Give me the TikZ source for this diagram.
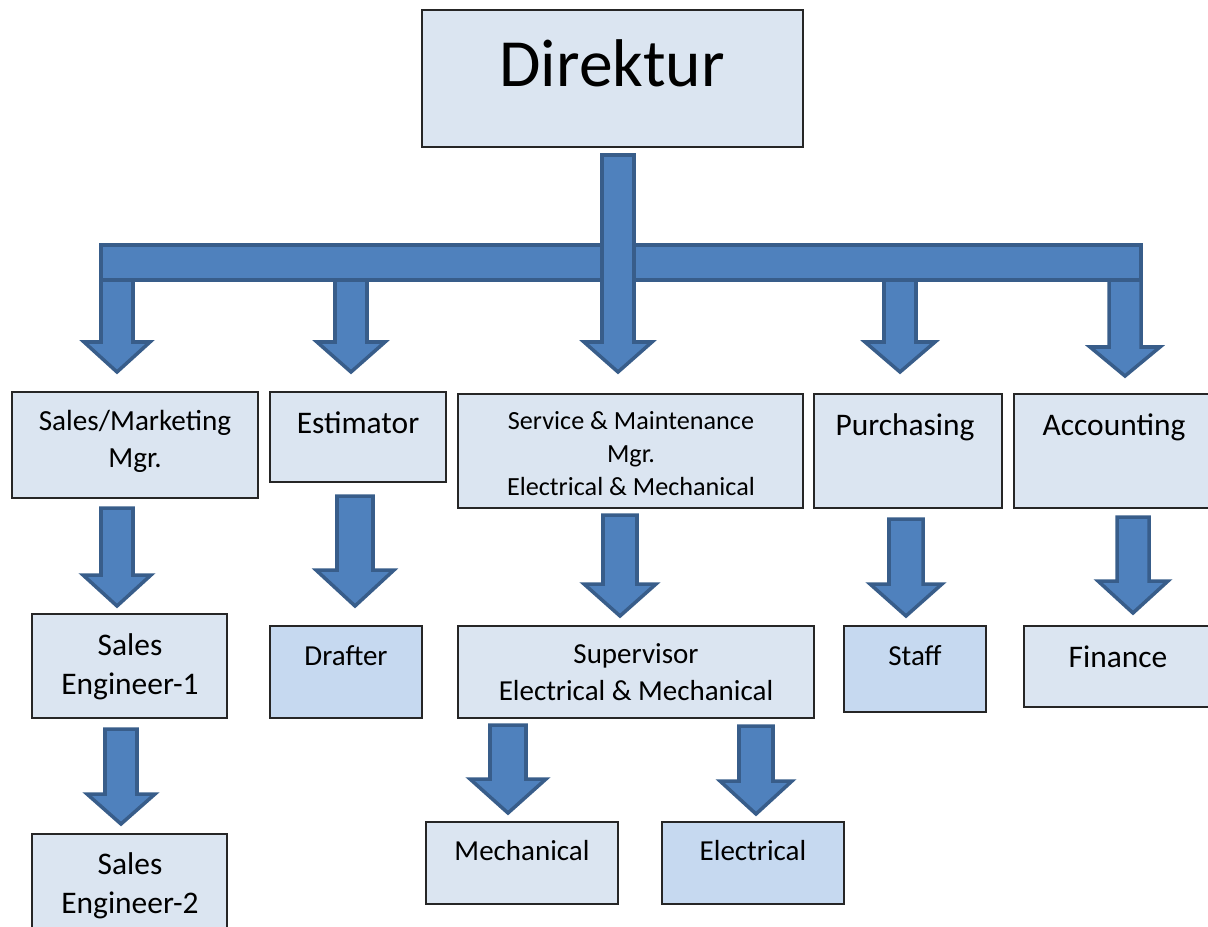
\documentclass[tikz,border=0pt]{standalone}
\usepackage{fontspec}
\setmainfont{Carlito}
\definecolor{boxfill}{HTML}{DBE5F1}
\definecolor{boxdark}{HTML}{C6D9F0}
\definecolor{arrfill}{HTML}{4F81BD}
\definecolor{arrline}{HTML}{385D8A}
\tikzset{
  box/.style={draw=black!85, line width=0.7pt, fill=boxfill},
  boxdk/.style={box, fill=boxdark},
  blockarr/.style={draw=arrline, fill=arrfill, line width=2pt, line join=miter},
  txtXL/.style={inner sep=0, anchor=base, font=\fontsize{38.4}{46}\selectfont},
  txtL/.style={inner sep=0, anchor=base, align=center, font=\fontsize{17.9}{22.1}\selectfont},
  txtM/.style={inner sep=0, anchor=base, align=center, font=\fontsize{16.5}{20.6}\selectfont},
  txtS/.style={inner sep=0, anchor=base, align=center, font=\fontsize{14.9}{18.7}\selectfont},
}
% block arrow: x, top, head base, tip, shaft half width, head half width
\newcommand{\blockarrow}[6]{%
  \draw[blockarr] (#1-#5,#2) -- (#1+#5,#2) -- (#1+#5,#3) -- (#1+#6,#3)
    -- (#1,#4) -- (#1-#6,#3) -- (#1-#5,#3) -- cycle;}
\begin{document}
\begin{tikzpicture}[x=0.02cm, y=-0.02cm]
  \useasboundingbox (0,0) rectangle (1208,927);
  % BOXES
  \path[box] (422,10) rectangle (803,147);
  \path[box] (12,392) rectangle (258,498);
  \path[box] (270,392) rectangle (446,482);
  \path[box] (458,394) rectangle (803,508);
  \path[box] (814,394) rectangle (1002,508);
  \path[box] (1014,394) rectangle (1212,508);
  \path[box] (32,614) rectangle (227,718);
  \path[boxdk] (270,626) rectangle (422,718);
  \path[box] (458,626) rectangle (814,718);
  \path[boxdk] (844,626) rectangle (986,712);
  \path[box] (1024,626) rectangle (1212,707);
  \path[box] (32,834) rectangle (227,940);
  \path[box] (426,822) rectangle (618,904);
  \path[boxdk] (662,822) rectangle (844,904);
  % TEXTS (multi-line: at baseline of last line)
  \node[txtXL] (dir) at (612,86) {Direktur};
  \node[txtM, font=\fontsize{16.6}{21}\selectfont] (smm) at (135,467) {Sales/Marketing\\Mgr.};
  \node[txtL] (est) at (358,433) {Estimator};
  \node[txtS] (svc) at (631,495) {Service \& Maintenance\\Mgr.\\Electrical \& Mechanical};
  \node[txtL] (pur) at (905,435) {Purchasing};
  \node[txtL] (acc) at (1114,435) {Accounting};
  \node[txtL] (se1) at (130,694) {Sales\\Engineer-1};
  \node[txtM] (drf) at (346,665) {Drafter};
  \node[txtM] (sup) at (636,700) {Supervisor\\Electrical \& Mechanical};
  \node[txtM] (stf) at (915,665) {Staff};
  \node[txtL] (fin) at (1118,667) {Finance};
  \node[txtL] (se2) at (130,913) {Sales\\Engineer-2};
  \node[txtM] (mec) at (522,860) {Mechanical};
  \node[txtM] (ele) at (753,860) {Electrical};
  % ARROWS FROM THE BAR
  \blockarrow{117}{262}{342}{372}{16}{33}
  \blockarrow{351}{262}{342}{372}{16}{34}
  \blockarrow{900}{262}{342}{372}{16}{35}
  \blockarrow{1125}{262}{347}{376}{16}{35}
  \draw[blockarr] (101,245) rectangle (1141,280);
  \blockarrow{618}{155}{342}{372}{16}{34}
  % LOWER ARROWS
  \blockarrow{117}{508}{575}{606}{16}{34}
  \blockarrow{121}{729}{794}{824}{16}{34}
  \blockarrow{355}{496}{570}{606}{18}{39}
  \blockarrow{620}{515}{584}{616}{17}{36}
  \blockarrow{906}{519}{584}{616}{17}{36}
  \blockarrow{1133}{517}{581}{613}{16}{35}
  \blockarrow{508}{725}{779}{813}{18}{38}
  \blockarrow{756}{726}{781}{814}{17}{36}
\end{tikzpicture}
\end{document}
